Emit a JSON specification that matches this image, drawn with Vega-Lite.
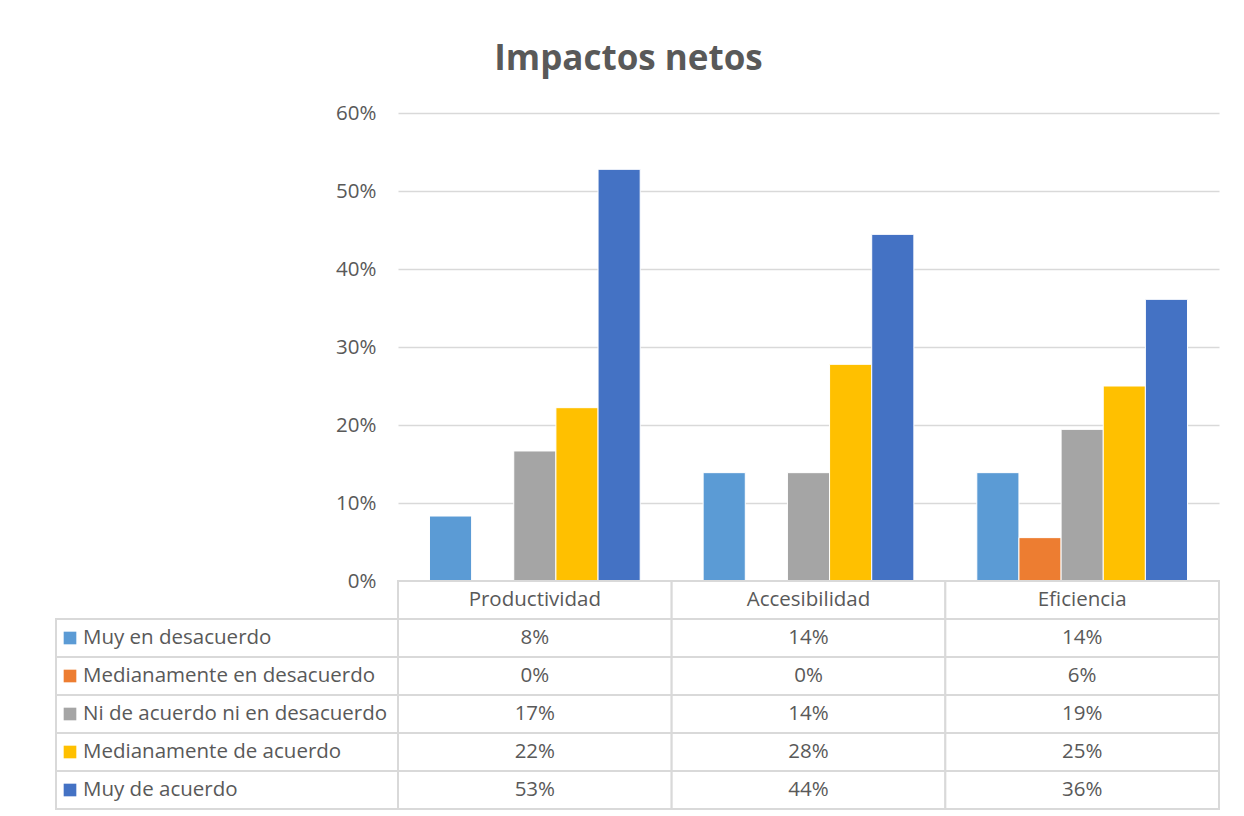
{
  "$schema": "https://vega.github.io/schema/vega-lite/v6.json",
  "padding": {"left": 55, "top": 42, "right": 20, "bottom": 5},
  "background": "white",
  "title": {"text": "Impactos netos", "fontSize": 35, "font": "Open Sans", "fontWeight": "bold", "color": "#595959", "anchor": "middle", "offset": 26, "dx": -9},
  "config": {"view": {"stroke": null}, "font": "Open Sans"},
  "datasets": {
    "vals": [
      {"cat": "Productividad", "serie": "Muy en desacuerdo", "value": 0.0833},
      {"cat": "Productividad", "serie": "Medianamente en desacuerdo", "value": 0},
      {"cat": "Productividad", "serie": "Ni de acuerdo ni en desacuerdo", "value": 0.1667},
      {"cat": "Productividad", "serie": "Medianamente de acuerdo", "value": 0.2222},
      {"cat": "Productividad", "serie": "Muy de acuerdo", "value": 0.5278},
      {"cat": "Accesibilidad", "serie": "Muy en desacuerdo", "value": 0.1389},
      {"cat": "Accesibilidad", "serie": "Medianamente en desacuerdo", "value": 0},
      {"cat": "Accesibilidad", "serie": "Ni de acuerdo ni en desacuerdo", "value": 0.1389},
      {"cat": "Accesibilidad", "serie": "Medianamente de acuerdo", "value": 0.2778},
      {"cat": "Accesibilidad", "serie": "Muy de acuerdo", "value": 0.4444},
      {"cat": "Eficiencia", "serie": "Muy en desacuerdo", "value": 0.1389},
      {"cat": "Eficiencia", "serie": "Medianamente en desacuerdo", "value": 0.0556},
      {"cat": "Eficiencia", "serie": "Ni de acuerdo ni en desacuerdo", "value": 0.1944},
      {"cat": "Eficiencia", "serie": "Medianamente de acuerdo", "value": 0.25},
      {"cat": "Eficiencia", "serie": "Muy de acuerdo", "value": 0.3611}
    ],
    "series": [
      {"serie": "Muy en desacuerdo"},
      {"serie": "Medianamente en desacuerdo"},
      {"serie": "Ni de acuerdo ni en desacuerdo"},
      {"serie": "Medianamente de acuerdo"},
      {"serie": "Muy de acuerdo"}
    ],
    "cats": [
      {"cat": "Productividad"},
      {"cat": "Accesibilidad"},
      {"cat": "Eficiencia"}
    ]
  },
  "columns": 2,
  "spacing": 0,
  "bounds": "flush",
  "concat": [
    {
      "width": 342,
      "height": 468,
      "data": {"values": []},
      "mark": "point"
    },
    {
      "width": 821,
      "height": 468,
      "data": {"name": "vals"},
      "mark": {"type": "bar", "stroke": "white", "strokeWidth": 1},
      "encoding": {
        "x": {"field": "cat", "type": "nominal", "sort": ["Productividad", "Accesibilidad", "Eficiencia"], "scale": {"paddingInner": 0.23, "paddingOuter": 0.115}, "axis": null},
        "xOffset": {"field": "serie", "type": "nominal", "scale": {"domain": ["Muy en desacuerdo", "Medianamente en desacuerdo", "Ni de acuerdo ni en desacuerdo", "Medianamente de acuerdo", "Muy de acuerdo"], "paddingInner": 0, "paddingOuter": 0}},
        "y": {"field": "value", "type": "quantitative", "scale": {"domain": [0, 0.6]}, "axis": {"format": ".0%", "values": [0, 0.1, 0.2, 0.3, 0.4, 0.5, 0.6], "title": null, "domain": false, "ticks": false, "labelFontSize": 20.5, "labelColor": "#595959", "labelPadding": 22, "gridColor": "#d9d9d9", "gridWidth": 1.5}},
        "color": {"field": "serie", "type": "nominal", "scale": {"domain": ["Muy en desacuerdo", "Medianamente en desacuerdo", "Ni de acuerdo ni en desacuerdo", "Medianamente de acuerdo", "Muy de acuerdo"], "range": ["#5B9BD5", "#ED7D31", "#A5A5A5", "#FFC000", "#4472C4"]}, "legend": null}
      }
    },
    {
      "width": 342,
      "height": 228,
      "data": {"name": "series"},
      "encoding": {
        "y": {"field": "serie", "type": "nominal", "scale": {"domain": [" ", "Muy en desacuerdo", "Medianamente en desacuerdo", "Ni de acuerdo ni en desacuerdo", "Medianamente de acuerdo", "Muy de acuerdo"], "paddingInner": 0, "paddingOuter": 0}, "axis": null}
      },
      "layer": [
        {"mark": {"type": "rect", "fill": "white", "stroke": "#d9d9d9", "strokeWidth": 2}},
        {"mark": {"type": "point", "shape": "square", "filled": true, "size": 160, "opacity": 1, "xOffset": -157},
         "encoding": {"color": {"field": "serie", "type": "nominal", "scale": {"domain": ["Muy en desacuerdo", "Medianamente en desacuerdo", "Ni de acuerdo ni en desacuerdo", "Medianamente de acuerdo", "Muy de acuerdo"], "range": ["#5B9BD5", "#ED7D31", "#A5A5A5", "#FFC000", "#4472C4"]}, "legend": null}}},
        {"mark": {"type": "text", "align": "left", "baseline": "middle", "dx": -144, "fontSize": 20.5, "color": "#595959"},
         "encoding": {"text": {"field": "serie"}}}
      ]
    },
    {
      "width": 821,
      "height": 228,
      "encoding": {
        "x": {"field": "cat", "type": "nominal", "sort": ["Productividad", "Accesibilidad", "Eficiencia"], "scale": {"paddingInner": 0, "paddingOuter": 0}, "axis": null}
      },
      "layer": [
        {"data": {"name": "vals"},
         "mark": {"type": "rect", "fill": "white", "stroke": "#d9d9d9", "strokeWidth": 2},
         "encoding": {"y": {"field": "serie", "type": "nominal", "scale": {"domain": [" ", "Muy en desacuerdo", "Medianamente en desacuerdo", "Ni de acuerdo ni en desacuerdo", "Medianamente de acuerdo", "Muy de acuerdo"], "paddingInner": 0, "paddingOuter": 0}, "axis": null}}},
        {"data": {"name": "cats"},
         "mark": {"type": "rect", "fill": "white", "stroke": "#d9d9d9", "strokeWidth": 2},
         "encoding": {"y": {"datum": " ", "type": "nominal"}}},
        {"data": {"name": "cats"},
         "mark": {"type": "text", "baseline": "middle", "fontSize": 20.5, "color": "#595959"},
         "encoding": {"y": {"datum": " ", "type": "nominal"}, "text": {"field": "cat"}}},
        {"data": {"name": "vals"},
         "mark": {"type": "text", "baseline": "middle", "fontSize": 20.5, "color": "#595959"},
         "encoding": {"y": {"field": "serie", "type": "nominal"}, "text": {"field": "value", "type": "quantitative", "format": ".0%"}}}
      ]
    }
  ]
}
